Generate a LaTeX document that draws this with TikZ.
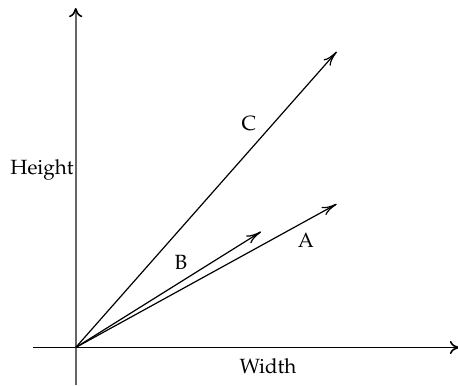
\documentclass[tikz,border=0pt]{standalone}
\usepackage[T1]{fontenc}
\usepackage{mathpazo}
\usetikzlibrary{arrows.meta}
\begin{document}
\begin{tikzpicture}[x=0.5pt,y=-0.5pt,
  axis/.style={line width=0.8pt,-{To[length=4.6pt,width=6.6pt,color=black]}},
  vec/.style={line width=0.6pt,black,-{To[length=7.5pt,width=4.6pt]}},
  lbl/.style={inner sep=0pt,font=\fontsize{10.3}{12}\selectfont}]
\useasboundingbox (0,0) rectangle (458,385);
\coordinate (O) at (75.7,347.5);
\coordinate (xl) at (33,347.5);
\coordinate (xr) at (459,347.5);
\coordinate (yb) at (75.7,385);
\coordinate (yt) at (75.7,8);
\coordinate (A) at (336.7,204);
\coordinate (B) at (261,231.7);
\coordinate (C) at (336.7,51.7);
\draw[axis,black] (xl) -- (xr);
\draw[axis,black!60] (yb) -- (yt);
\draw[vec] (O) -- (A);
\draw[vec] (O) -- (B);
\draw[vec] (O) -- (C);
\node[lbl,anchor=east] (h) at (74,170) {Height};
\node[lbl] (w) at (268,366) {Width};
\node[lbl] (lc) at (249,124) {C};
\node[lbl] (lb) at (181,262) {B};
\node[lbl] (la) at (306,240) {A};
\end{tikzpicture}
\end{document}
